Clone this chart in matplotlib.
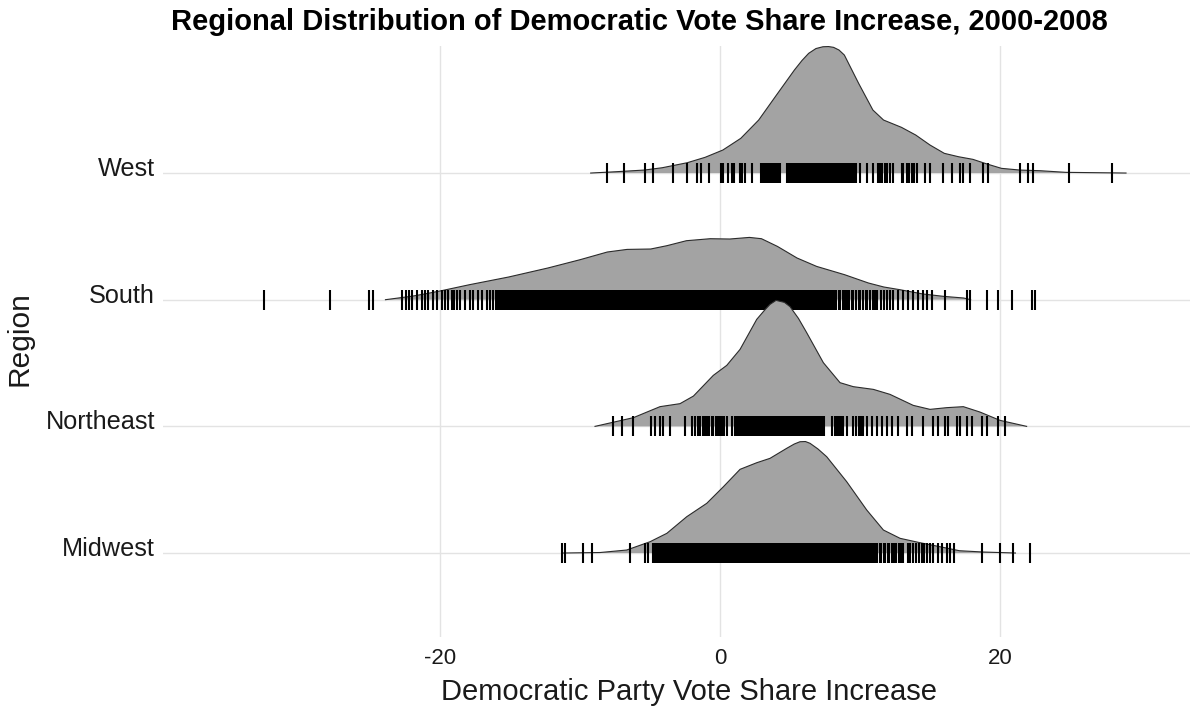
import matplotlib
matplotlib.use('Agg')
import matplotlib.pyplot as plt
import matplotlib.transforms as mtransforms

plt.rcParams['font.family'] = ['Liberation Sans', 'DejaVu Sans']

# ---------------- data ----------------
regions = ['Midwest', 'Northeast', 'South', 'West']   # bottom -> top

# density outlines (x: vote share increase, h: ridge height, px-like units)
west_x = [-9.24, -7.45, -5.4, -4.13, -2.35, -1.07, 0.2, 1.48, 2.76, 4.03, 5.31, 5.85, 6.33, 6.85,
          7.35, 7.75, 8.11, 8.5, 8.88, 9.9, 10.92, 11.68, 12.96, 13.98, 15.0, 16.02, 17.04,
          18.06, 19.08, 20.1, 21.4, 22.9, 24.7, 29.0]
west_h = [0, 1.3, 3, 5.3, 10.3, 15.7, 23, 34.7, 53, 78, 103, 112.5, 119.7, 124.5,
          126.3, 126.5, 125.7, 123, 118, 89.7, 63, 53, 45.7, 38, 28, 19.7, 16.3,
          13.7, 9, 4.7, 3, 2.3, 0.7, 0]

south_x = [-23.9, -22.0, -21.0, -19.9, -17.9, -15.1, -12.3, -10.0, -8.05, -6.64, -4.95, -3.8,
           -2.4, -0.7, 0.7, 2.1, 2.96, 4.1, 5.5, 6.9, 8.9, 10.6, 11.7, 12.85, 14.5, 16.0,
           17.4, 17.9]
south_h = [0, 3.5, 6, 9, 15, 22.7, 31.7, 40, 47.7, 50.3, 50.7, 54,
           59, 61, 60.7, 62.3, 61, 53.3, 41.7, 33.3, 25, 16.7, 12.7, 10, 5.7, 3.3,
           1.7, 0]

northeast_x = [-8.93, -6.19, -4.29, -2.86, -1.9, -0.48, 0.48, 1.43, 2.62, 3.2, 3.57, 4.0, 4.6,
               5.0, 5.6, 6.19, 7.38, 8.57, 9.52, 10.95, 12.14, 13.8, 15.0, 16.19, 17.38, 18.57,
               20.0, 21.9]
northeast_h = [0, 8.7, 19.7, 22.7, 30.3, 51, 61, 77, 107, 116.5, 122, 126, 124,
               119.7, 108, 93.7, 63.7, 43.7, 39.7, 37, 32, 21, 17, 18.7, 19.7, 14.3,
               6, 0]

midwest_x = [-11.2, -8.57, -6.67, -5.0, -3.8, -2.38, -0.95, 0.24, 1.43, 2.62, 3.57, 4.76, 5.3,
             5.71, 6.1, 6.43, 7.0, 7.62, 9.05, 10.48, 11.67, 12.86, 14.29, 15.71, 17.1, 18.8,
             21.1]
midwest_h = [0, 0.5, 3, 11.3, 19.7, 36.3, 49.7, 66.3, 83.7, 90.3, 94.7, 104.7, 109,
             111.3, 111.5, 109.7, 104, 96.3, 71.3, 43, 23, 14.7, 10.3, 6.3, 2.3, 1,
             0]

# rug (individual county values)
west_rug = [-8.05, -6.86, -5.36, -4.76, -3.33, -2.33, -1.62, -1.36, -0.76, 0.05, 0.24, 0.55, 0.83,
            1.0, 1.43, 1.6, 1.79, 2.26,
            2.9, 3.0, 3.1, 3.2, 3.3, 3.4, 3.5, 3.6, 3.7, 3.8, 3.9, 4.0, 4.1, 4.2, 4.3,
            4.8, 4.9, 5.0, 5.1, 5.2, 5.3, 5.4, 5.5, 5.6, 5.7, 5.8, 5.9, 6.0, 6.1, 6.2, 6.3, 6.4,
            6.5, 6.6, 6.7, 6.8, 6.9, 7.0, 7.1, 7.2, 7.3, 7.4, 7.5, 7.6, 7.7, 7.8, 7.9, 8.0, 8.1,
            8.2, 8.3, 8.4, 8.5, 8.6, 8.7, 8.8, 8.9, 9.0, 9.1, 9.2, 9.3, 9.4, 9.5, 9.6, 9.7,
            10.0, 10.5, 10.95, 11.3, 11.43, 11.6, 11.79, 11.95, 12.14, 12.38,
            12.98, 13.1, 13.33, 13.5, 13.69, 13.85, 14.05, 14.64, 15.0, 15.95, 16.55, 17.14,
            17.38, 17.86, 18.81, 19.17, 21.43, 22.02, 22.33, 24.95, 28.0]

south_rug = [-32.6, -27.86, -25.1, -24.8,
             -22.74, -22.45, -22.21, -21.98, -21.67, -21.31, -21.07, -20.83, -20.52, -20.24,
             -19.88, -19.64, -19.4, -19.17, -19.0, -18.8, -18.57, -18.21, -17.86, -17.62,
             -17.26, -17.02, -16.67, -16.43, -16.2,
             -16.0, -15.9, -15.8, -15.7, -15.6, -15.5, -15.4, -15.3, -15.2, -15.1,
             -15.0, -14.9, -14.8, -14.7, -14.6, -14.5, -14.4, -14.3, -14.2, -14.1,
             -14.0, -13.9, -13.8, -13.7, -13.6, -13.5, -13.4, -13.3, -13.2, -13.1,
             -13.0, -12.9, -12.8, -12.7, -12.6, -12.5, -12.4, -12.3, -12.2, -12.1,
             -12.0, -11.9, -11.8, -11.7, -11.6, -11.5, -11.4, -11.3, -11.2, -11.1,
             -11.0, -10.9, -10.8, -10.7, -10.6, -10.5, -10.4, -10.3, -10.2, -10.1,
             -10.0, -9.9, -9.8, -9.7, -9.6, -9.5, -9.4, -9.3, -9.2, -9.1,
             -9.0, -8.9, -8.8, -8.7, -8.6, -8.5, -8.4, -8.3, -8.2, -8.1,
             -8.0, -7.9, -7.8, -7.7, -7.6, -7.5, -7.4, -7.3, -7.2, -7.1,
             -7.0, -6.9, -6.8, -6.7, -6.6, -6.5, -6.4, -6.3, -6.2, -6.1,
             -6.0, -5.9, -5.8, -5.7, -5.6, -5.5, -5.4, -5.3, -5.2, -5.1,
             -5.0, -4.9, -4.8, -4.7, -4.6, -4.5, -4.4, -4.3, -4.2, -4.1,
             -4.0, -3.9, -3.8, -3.7, -3.6, -3.5, -3.4, -3.3, -3.2, -3.1,
             -3.0, -2.9, -2.8, -2.7, -2.6, -2.5, -2.4, -2.3, -2.2, -2.1,
             -2.0, -1.9, -1.8, -1.7, -1.6, -1.5, -1.4, -1.3, -1.2, -1.1,
             -1.0, -0.9, -0.8, -0.7, -0.6, -0.5, -0.4, -0.3, -0.2, -0.1,
             0.0, 0.1, 0.2, 0.3, 0.4, 0.5, 0.6, 0.7, 0.8, 0.9,
             1.0, 1.1, 1.2, 1.3, 1.4, 1.5, 1.6, 1.7, 1.8, 1.9,
             2.0, 2.1, 2.2, 2.3, 2.4, 2.5, 2.6, 2.7, 2.8, 2.9,
             3.0, 3.1, 3.2, 3.3, 3.4, 3.5, 3.6, 3.7, 3.8, 3.9,
             4.0, 4.1, 4.2, 4.3, 4.4, 4.5, 4.6, 4.7, 4.8, 4.9,
             5.0, 5.1, 5.2, 5.3, 5.4, 5.5, 5.6, 5.7, 5.8, 5.9,
             6.0, 6.1, 6.2, 6.3, 6.4, 6.5, 6.6, 6.7, 6.8, 6.9,
             7.0, 7.1, 7.2, 7.3, 7.4, 7.5, 7.6, 7.7, 7.8, 7.9,
             8.0, 8.1, 8.2, 8.3,
             8.5, 8.6, 8.8, 8.9, 9.1, 9.2, 9.4, 9.5, 9.7, 9.9, 10.0, 10.2, 10.4, 10.5,
             10.7, 10.9, 11.1, 11.2, 11.5, 11.7, 11.9,
             12.14, 12.38, 12.74, 13.1, 13.45, 13.8, 14.17, 14.52, 14.76, 15.12, 16.07,
             17.62, 17.86, 19.05, 19.88, 20.83, 22.26, 22.5]

northeast_rug = [-7.62, -6.98, -6.19, -4.95, -4.64, -4.29, -4.05, -3.57, -2.5, -2.02, -1.79,
                 -1.55, -1.4, -1.25, -1.1, -0.95, -0.8, -0.6, -0.48, -0.3, -0.15, 0.0, 0.15,
                 0.3, 0.48, 0.83,
                 1.1, 1.2, 1.3, 1.4, 1.5, 1.6, 1.7, 1.8, 1.9, 2.0, 2.1, 2.2, 2.3, 2.4, 2.5,
                 2.6, 2.7, 2.8, 2.9, 3.0, 3.1, 3.2, 3.3, 3.4, 3.5, 3.6, 3.7, 3.8, 3.9, 4.0,
                 4.1, 4.2, 4.3, 4.4, 4.5, 4.6, 4.7, 4.8, 4.9, 5.0, 5.1, 5.2, 5.3, 5.4, 5.5,
                 5.6, 5.7, 5.8, 5.9, 6.0, 6.1, 6.2, 6.3, 6.4, 6.5, 6.6, 6.7, 6.8, 6.9, 7.0,
                 7.1, 7.2, 7.3, 7.4,
                 7.98, 8.21, 8.35, 8.5, 8.65, 8.8, 9.05, 9.52, 9.7, 9.9, 10.1, 10.24, 10.48,
                 10.83, 11.19, 11.55, 11.9, 12.26, 12.74, 13.33, 13.69, 14.52, 15.24, 15.6,
                 16.07, 16.31, 16.9, 17.14, 17.62, 17.98, 18.69, 19.05, 19.88, 20.36]

midwest_rug = [-11.31, -11.07, -9.76, -9.17, -6.43, -5.36, -5.12,
               -4.8, -4.7, -4.6, -4.5, -4.4, -4.3, -4.2, -4.1,
               -4.0, -3.9, -3.8, -3.7, -3.6, -3.5, -3.4, -3.3, -3.2, -3.1,
               -3.0, -2.9, -2.8, -2.7, -2.6, -2.5, -2.4, -2.3, -2.2, -2.1,
               -2.0, -1.9, -1.8, -1.7, -1.6, -1.5, -1.4, -1.3, -1.2, -1.1,
               -1.0, -0.9, -0.8, -0.7, -0.6, -0.5, -0.4, -0.3, -0.2, -0.1,
               0.0, 0.1, 0.2, 0.3, 0.4, 0.5, 0.6, 0.7, 0.8, 0.9,
               1.0, 1.1, 1.2, 1.3, 1.4, 1.5, 1.6, 1.7, 1.8, 1.9,
               2.0, 2.1, 2.2, 2.3, 2.4, 2.5, 2.6, 2.7, 2.8, 2.9,
               3.0, 3.1, 3.2, 3.3, 3.4, 3.5, 3.6, 3.7, 3.8, 3.9,
               4.0, 4.1, 4.2, 4.3, 4.4, 4.5, 4.6, 4.7, 4.8, 4.9,
               5.0, 5.1, 5.2, 5.3, 5.4, 5.5, 5.6, 5.7, 5.8, 5.9,
               6.0, 6.1, 6.2, 6.3, 6.4, 6.5, 6.6, 6.7, 6.8, 6.9,
               7.0, 7.1, 7.2, 7.3, 7.4, 7.5, 7.6, 7.7, 7.8, 7.9,
               8.0, 8.1, 8.2, 8.3, 8.4, 8.5, 8.6, 8.7, 8.8, 8.9,
               9.0, 9.1, 9.2, 9.3, 9.4, 9.5, 9.6, 9.7, 9.8, 9.9,
               10.0, 10.1, 10.2, 10.3, 10.4, 10.5, 10.6, 10.7, 10.8, 10.9,
               11.0, 11.1, 11.2,
               11.4, 11.5, 11.7, 11.8, 12.0, 12.1, 12.3, 12.4, 12.6, 12.8, 12.9, 13.1,
               13.45, 13.6, 13.8, 14.0, 14.2, 14.4, 14.6, 14.8, 15.0, 15.24, 15.6, 15.83,
               16.19, 16.43, 16.71, 18.74, 20.0, 20.95, 22.14]

x_ticks = [-20, 0, 20]
x_tick_labels = ['-20', '0', '20']

title = 'Regional Distribution of Democratic Vote Share Increase, 2000-2008'
x_title = 'Democratic Party Vote Share Increase'
y_title = 'Region'

# ---------------- figure ----------------
W, H = 1202, 713
DPI = 100
fig = plt.figure(figsize=(W / DPI, H / DPI), dpi=DPI)
fig.patch.set_facecolor('white')

ax_l, ax_r, ax_t, ax_b = 163, 1190, 46, 637
ax = fig.add_axes([ax_l / W, 1 - ax_b / H, (ax_r - ax_l) / W, (ax_b - ax_t) / H])
ax.set_xlim(-39.79, 33.57)
ax.set_ylim(0.337, 5.003)
for s in ax.spines.values():
    s.set_visible(False)
ax.tick_params(length=0)
ax.set_xticks(x_ticks)
ax.set_xticklabels(x_tick_labels, fontsize=16, color='#1a1a1a')
ax.tick_params(axis='x', pad=8)
ax.set_yticks([])

grid_c = '#e3e3e3'
for xv in x_ticks:
    ax.axvline(xv, color=grid_c, lw=1.0, zorder=0)
for i, r in enumerate(regions):
    ax.axhline(i + 1, color=grid_c, lw=1.0, zorder=0)

ridge_px = 126.67   # height units per ridge spacing
series = {
    'West': (west_x, west_h, west_rug),
    'South': (south_x, south_h, south_rug),
    'Northeast': (northeast_x, northeast_h, northeast_rug),
    'Midwest': (midwest_x, midwest_h, midwest_rug),
}
order = ['West', 'South', 'Northeast', 'Midwest']
for k, name in enumerate(order):
    y0 = regions.index(name) + 1
    xs, hs, rug = series[name]
    ys = [y0 + h / ridge_px for h in hs]
    z = 2 + 3 * k
    ax.fill_between(xs, y0, ys, facecolor='#a3a3a3', edgecolor='none', zorder=z)
    ax.plot(xs, ys, color='#2b2b2b', lw=0.8, zorder=z + 0.5, solid_joinstyle='round')
    ax.plot(rug, [y0] * len(rug), ls='none', marker='|', ms=13.8, mew=1.5,
            color='black', zorder=z + 1)

# y labels (regions)
off = mtransforms.ScaledTranslation(-8 / DPI, -3 / DPI, fig.dpi_scale_trans)
trans = mtransforms.blended_transform_factory(ax.transAxes, ax.transData) + off
for i, r in enumerate(regions):
    ax.text(0, i + 1, r, transform=trans, ha='right', va='baseline', fontsize=18.2,
            color='#1a1a1a')

fig.text(639 / W, 1 - 22 / H, title, ha='center', va='center', fontsize=21,
         fontweight='bold', color='black')
fig.text(689 / W, 1 - 692 / H, x_title, ha='center', va='center', fontsize=21,
         color='#1a1a1a')
fig.text(20 / W, 1 - 339 / H, y_title, ha='center', va='center', rotation=90,
         fontsize=21.5, color='#1a1a1a')

fig.savefig('out.png', dpi=DPI, facecolor='white')
